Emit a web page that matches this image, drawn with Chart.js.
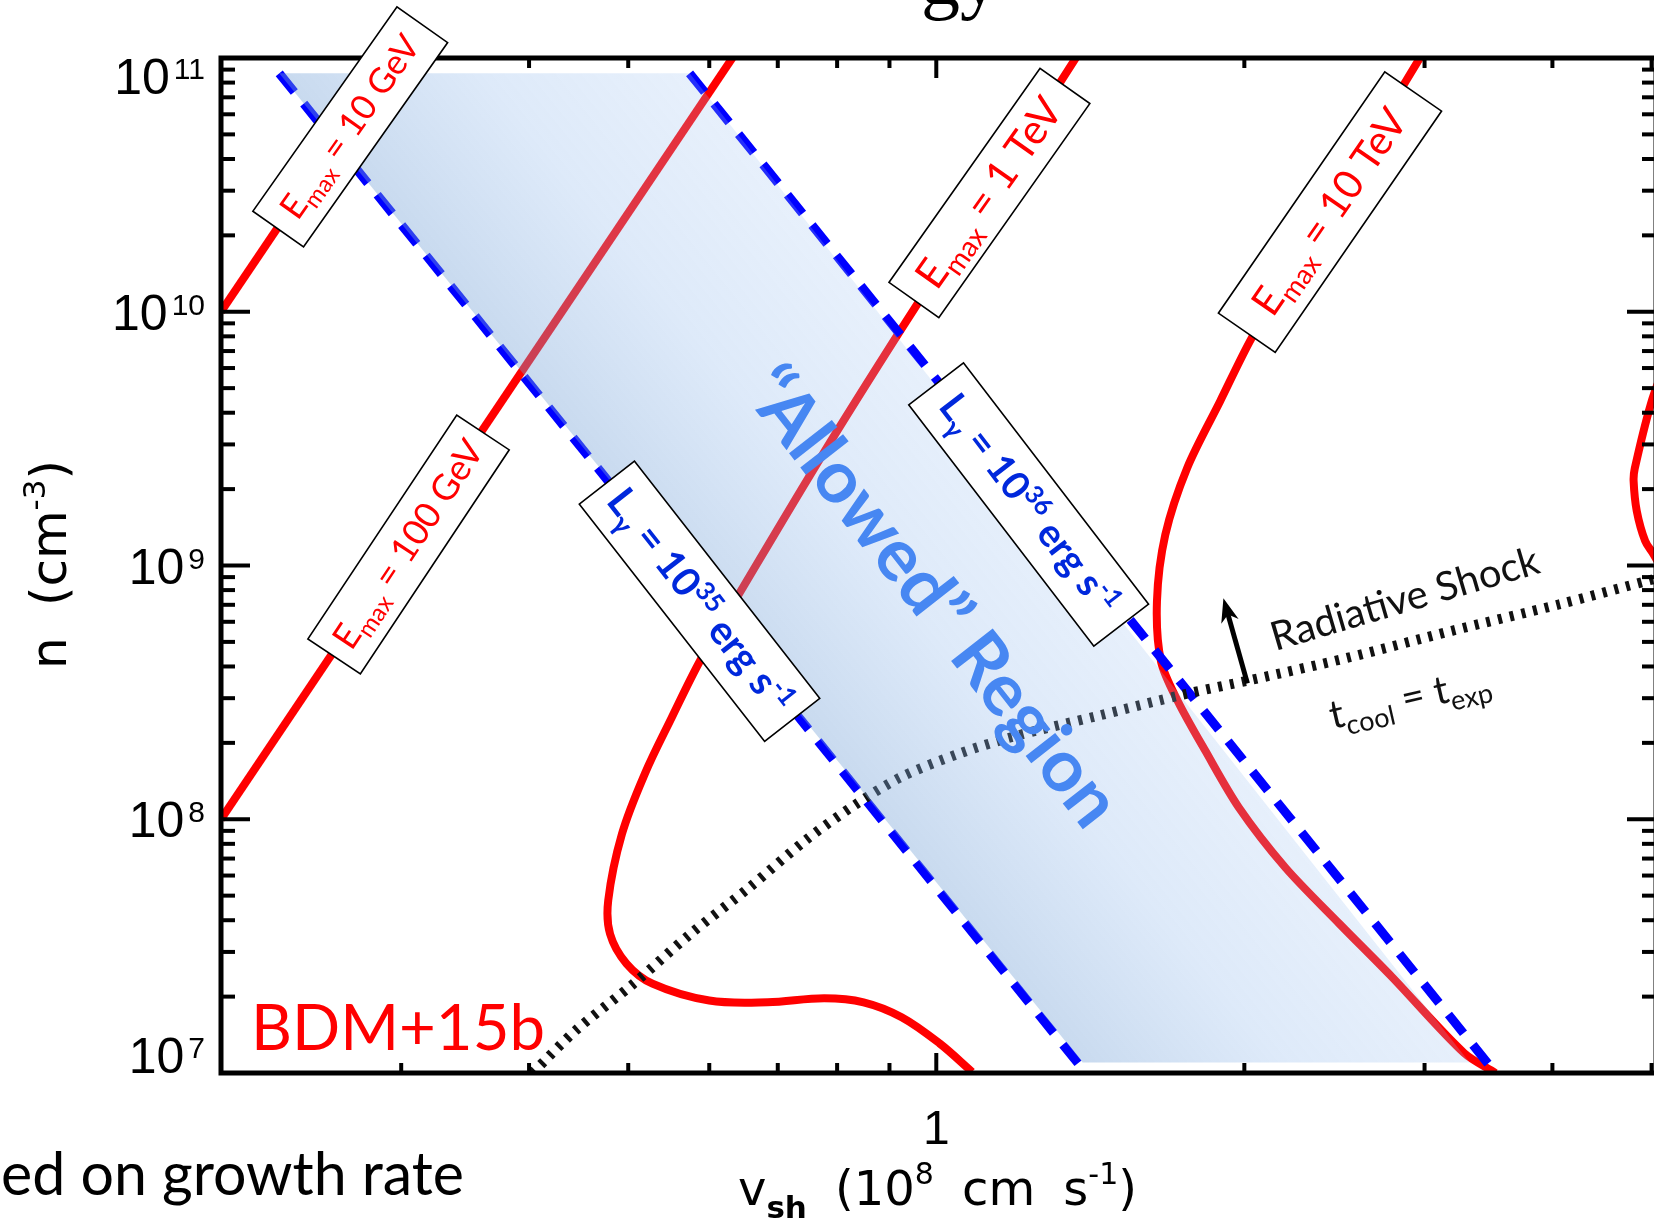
<!DOCTYPE html>
<html>
<head>
<meta charset="utf-8">
<title>Allowed region</title>
<script src="https://cdn.jsdelivr.net/npm/chart.js@4.4.1/dist/chart.umd.min.js"></script>
<style>
html,body{margin:0;padding:0;background:#ffffff;overflow:hidden;}
body{width:1654px;height:1224px;position:relative;}
#chart{position:absolute;left:0;top:0;}
</style>
</head>
<body>
<canvas id="chart" width="1662" height="1224"></canvas>
<script>
// ---------------- data (v_sh in 1e8 cm/s, n in cm^-3) ----------------
const vMinorTicks = [0.3, 0.4, 0.5, 0.6, 0.7, 0.8, 0.9, 2, 3, 4, 5];
const vMajorTicks = [1];
const vTickLabels = ['1'];
const nMajorTicks = [1e7, 1e8, 1e9, 1e10, 1e11];
const nTickExponents = ['7', '8', '9', '10', '11'];

const emax10GeV  = [{x:0.200, y:1.0e10}, {x:0.294, y:1.0e11}];
const emax100GeV = [{x:0.200, y:1.0e8},  {x:0.632, y:1.0e11}];
const emax1TeV = [
  {x:1.371,y:1.01e11},{x:1.130,y:3.0e10},{x:0.925,y:8.59e9},{x:0.774,y:2.73e9},{x:0.648,y:8.26e8},
  {x:0.589,y:4.28e8},{x:0.551,y:2.50e8},{x:0.519,y:1.51e8},{x:0.493,y:8.75e7},
  {x:0.478,y:4.79e7},{x:0.480,y:3.53e7},{x:0.498,y:2.70e7},{x:0.528,y:2.25e7},
  {x:0.600,y:1.93e7},{x:0.684,y:1.90e7},{x:0.777,y:1.97e7},{x:0.849,y:1.90e7},
  {x:0.925,y:1.66e7},{x:1.007,y:1.31e7},{x:1.084,y:1.01e7}
];
const emax10TeV = [
  {x:2.973,y:1.01e11},{x:2.704,y:5.37e10},{x:2.458,y:2.83e10},{x:2.236,y:1.49e10},
  {x:2.033,y:7.87e9},{x:1.894,y:4.44e9},
  {x:1.759,y:2.43e9},{x:1.674,y:1.32e9},{x:1.643,y:7.23e8},{x:1.658,y:4.19e8},
  {x:1.722,y:2.92e8},{x:1.832,y:1.86e8},{x:1.976,y:1.11e8},{x:2.194,y:6.44e7},
  {x:2.476,y:3.88e7},{x:2.788,y:2.39e7},{x:3.278,y:1.20e7},{x:3.519,y:1.0e7}
];
const emax100TeV = [
  {x:5.17,y:6.44e9},{x:4.99,y:4.31e9},{x:4.814,y:2.41e9},{x:4.802,y:2.15e9},
  {x:4.836,y:1.64e9},{x:4.928,y:1.25e9},{x:5.02,y:1.11e9},{x:5.23,y:8.26e8}
];
const lum35 = [{x:0.228, y:8.7e10}, {x:1.40, y:1.0e7}];
const lum36 = [{x:0.574, y:8.7e10}, {x:3.52, y:1.0e7}];
const coolingLine = [
  {x:0.403,y:1.0e7},{x:0.445,y:1.48e7},{x:0.506,y:2.25e7},{x:0.575,y:3.53e7},
  {x:0.656,y:5.37e7},{x:0.745,y:8.26e7},{x:0.833,y:1.14e8},{x:0.925,y:1.47e8},
  {x:1.051,y:1.81e8},{x:1.186,y:2.11e8},{x:1.435,y:2.55e8},{x:1.755,y:3.12e8},
  {x:2.024,y:3.53e8},{x:2.518,y:4.32e8},{x:3.191,y:5.53e8},{x:4.057,y:7.02e8},
  {x:5.02,y:8.83e8},{x:5.42,y:9.53e8}
];
const allowedRegion = [
  {x:0.228,y:8.7e10},{x:0.574,y:8.7e10},{x:3.32,y:1.1e7},{x:1.39,y:1.1e7},{x:0.228,y:8.7e10}
];

// ---------------- annotation layout ----------------
const FONT = 'Lato, "Noto Sans", sans-serif';
const AXFONT = '"Liberation Sans", Arial, sans-serif';
const TFONT = '"DejaVu Sans", "Liberation Sans", sans-serif';
const E = (val) => [{t:'E', size:34}, {t:'max', size:23, dy:8}, {t:' = ' + val, size:34}];
const L = (p) => [
  {t:'L', size:32, bold:true}, {t:'\u03B3', size:22, dy:8, bold:true},
  {t:' = 10', size:32, bold:true}, {t:p, size:21, dy:-12, bold:true},
  {t:' erg s', size:32, bold:true}, {t:'-1', size:21, dy:-12, bold:true}
];
const boxLabels = [
  {at:{x:0.2675,y:5.35e10}, w:250, h:62, rot:-54.8, width:215, color:'#ff0000', segs:E('10 GeV')},
  {at:{x:0.305, y:1.21e9},  w:269, h:63, rot:-56.4, width:242, color:'#ff0000', segs:E('100 GeV')},
  {at:{x:1.127, y:2.94e10}, w:262, h:61, rot:-54.8, width:222, color:'#ff0000', segs:E('1 TeV')},
  {at:{x:2.425, y:2.47e10}, w:293, h:69, rot:-55.4, width:240, color:'#ff0000', segs:E('10 TeV')},
  {at:{x:0.587, y:7.23e8},  w:301, h:70, rot:52.0,  width:273, color:'#0028dc', segs:L('35')},
  {at:{x:1.231, y:1.74e9},  w:304, h:69, rot:52.5,  width:266, color:'#0028dc', segs:L('36')}
];
const freeLabels = [
  {at:{x:0.993,y:7.57e8}, rot:52, width:560, color:'#4787f2',
   segs:[{t:'\u201CAllowed\u201D Region', size:62, bold:true}]},
  {at:{x:2.868,y:7.43e8}, rot:-16.4, width:278, color:'#111111',
   segs:[{t:'Radiative Shock', size:36}]},
  {at:{x:2.90,y:3.03e8}, rot:-13, width:164, color:'#111111',
   segs:[{t:'t', size:38}, {t:'cool', size:26, dy:9}, {t:' = t', size:38}, {t:'exp', size:26, dy:9}]}
];
const arrowTail = {x:2.014, y:3.43e8};
const arrowHead = {x:1.908, y:7.43e8};

// ---------------- helpers ----------------
function fontOf(s, k){ return (s.bold ? 'bold ' : '') + (s.size * k).toFixed(2) + 'px ' + (s.family || FONT); }
function widthOf(ctx, segs, k, extra){
  let w = 0;
  segs.forEach(s => { ctx.font = fontOf(s, k); w += ctx.measureText(s.t).width + (s.t === ' ' ? extra : 0); });
  return w;
}
function drawSegs(ctx, segs, x, y, k, color, extra){
  segs.forEach(s => {
    ctx.font = fontOf(s, k);
    ctx.fillStyle = s.color || color;
    ctx.fillText(s.t, x, y + (s.dy || 0) * k);
    x += ctx.measureText(s.t).width + (s.t === ' ' ? extra : 0);
  });
}
function fitScale(ctx, segs, target){ return target / widthOf(ctx, segs, 1, 0); }

function bandGradient(context){
  const chart = context.chart;
  if (!chart.chartArea || !chart.scales.x) return 'rgba(130,175,225,0.33)';
  const xs = chart.scales.x, ys = chart.scales.y;
  const p = d => [xs.getPixelForValue(d.x), ys.getPixelForValue(d.y)];
  const a0 = p(lum35[0]), a1 = p(lum35[1]), b0 = p(lum36[0]);
  let dx = a1[0] - a0[0], dy = a1[1] - a0[1];
  const len = Math.hypot(dx, dy); dx /= len; dy /= len;
  const nx = dy, ny = -dx;
  const dist = (b0[0] - a0[0]) * nx + (b0[1] - a0[1]) * ny;
  const mx = (a0[0] + a1[0]) / 2, my = (a0[1] + a1[1]) / 2;
  const g = chart.ctx.createLinearGradient(mx, my, mx + nx * dist, my + ny * dist);
  g.addColorStop(0, 'rgba(118,162,214,0.40)');
  g.addColorStop(0.5, 'rgba(145,185,236,0.30)');
  g.addColorStop(1, 'rgba(155,192,240,0.24)');
  return g;
}

// ---------------- overlay plugin: frame, ticks, labels ----------------
const overlay = {
  id: 'overlay',
  afterDatasetsDraw(chart){
    const ctx = chart.ctx, ca = chart.chartArea, xs = chart.scales.x, ys = chart.scales.y;
    const P = d => [xs.getPixelForValue(d.x), ys.getPixelForValue(d.y)];
    const seg = (a, b, c, d) => { ctx.beginPath(); ctx.moveTo(a, b); ctx.lineTo(c, d); ctx.stroke(); };
    ctx.save();
    ctx.strokeStyle = '#000'; ctx.lineCap = 'butt'; ctx.lineWidth = 4;
    vMinorTicks.forEach(v => { const px = xs.getPixelForValue(v); seg(px, ca.bottom, px, ca.bottom - 10); seg(px, ca.top, px, ca.top + 10); });
    vMajorTicks.forEach(v => { const px = xs.getPixelForValue(v); seg(px, ca.bottom, px, ca.bottom - 20); seg(px, ca.top, px, ca.top + 20); });
    nMajorTicks.forEach((n, i) => {
      const py = ys.getPixelForValue(n);
      seg(ca.left, py, ca.left + 29, py); seg(ca.right, py, ca.right - 29, py);
      if (i < nMajorTicks.length - 1) {
        for (let k = 2; k <= 9; k++) {
          const q = ys.getPixelForValue(n * k);
          seg(ca.left, q, ca.left + 14, q); seg(ca.right, q, ca.right - 14, q);
        }
      }
    });
    ctx.lineWidth = 5; ctx.lineJoin = 'miter';
    ctx.strokeRect(ca.left, ca.top, ca.right - ca.left, ca.bottom - ca.top);

    // y tick labels
    ctx.fillStyle = '#000'; ctx.textBaseline = 'alphabetic'; ctx.textAlign = 'left';
    nMajorTicks.forEach((n, i) => {
      const py = ys.getPixelForValue(n);
      ctx.font = '50px ' + AXFONT; const w1 = ctx.measureText('10').width;
      ctx.font = '30px ' + AXFONT; const w2 = ctx.measureText(nTickExponents[i]).width;
      const x0 = ca.left - 16 - (w1 + 4 + w2);
      let base = py + 18;
      if (i === nMajorTicks.length - 1) base = py + 36;
      if (i === 0) base = py;
      ctx.font = '50px ' + AXFONT; ctx.fillText('10', x0, base);
      ctx.font = '30px ' + AXFONT; ctx.fillText(nTickExponents[i], x0 + w1 + 4, base - 15);
    });
    // x tick labels
    ctx.textAlign = 'center'; ctx.font = '48px ' + AXFONT;
    vMajorTicks.forEach((v, i) => ctx.fillText(vTickLabels[i], xs.getPixelForValue(v), ca.bottom + 71));
    ctx.textAlign = 'left';

    // x axis title (spaces widened to match)
    const xt = [{t:'v', size:48, family:TFONT}, {t:'sh', size:31, dy:13, bold:true, family:TFONT}, {t:' ', size:48, family:TFONT},
      {t:'(10', size:48, family:TFONT}, {t:'8', size:30, dy:-21, family:TFONT}, {t:' ', size:48, family:TFONT},
      {t:'cm', size:48, family:TFONT}, {t:' ', size:48, family:TFONT}, {t:'s', size:48, family:TFONT},
      {t:'-1', size:30, dy:-21, family:TFONT}, {t:')', size:48, family:TFONT}];
    let nat = widthOf(ctx, xt, 1, 0);
    let extra = Math.max(0, (399 - nat) / 3);
    const xmid = (ca.left + ca.right) / 2 - 1;
    drawSegs(ctx, xt, xmid - (nat + 3 * extra) / 2, ca.bottom + 132, 1, '#000', extra);

    // y axis title
    const yt = [{t:'n', size:50, family:TFONT}, {t:' ', size:50, family:TFONT},
      {t:'(cm', size:50, family:TFONT}, {t:'-3', size:31, dy:-21, family:TFONT}, {t:')', size:50, family:TFONT}];
    nat = widthOf(ctx, yt, 1, 0);
    extra = Math.max(0, 209 - nat);
    ctx.save();
    ctx.translate(66, (ca.top + ca.bottom) / 2 - 1);
    ctx.rotate(-Math.PI / 2);
    drawSegs(ctx, yt, -(nat + extra) / 2, 0, 1, '#000', extra);
    ctx.restore();

    // boxed labels
    boxLabels.forEach(b => {
      const [cx, cy] = P(b.at);
      ctx.save();
      ctx.translate(cx, cy); ctx.rotate(b.rot * Math.PI / 180);
      ctx.fillStyle = '#fff'; ctx.fillRect(-b.w / 2, -b.h / 2, b.w, b.h);
      ctx.strokeStyle = '#000'; ctx.lineWidth = 1.6; ctx.strokeRect(-b.w / 2, -b.h / 2, b.w, b.h);
      const k = fitScale(ctx, b.segs, b.width);
      drawSegs(ctx, b.segs, -b.width / 2, 0.33 * b.segs[0].size * k, k, b.color, 0);
      ctx.restore();
    });
    // free labels
    freeLabels.forEach(f => {
      const [cx, cy] = P(f.at);
      ctx.save();
      ctx.translate(cx, cy); ctx.rotate(f.rot * Math.PI / 180);
      const k = fitScale(ctx, f.segs, f.width);
      drawSegs(ctx, f.segs, -f.width / 2, 0.35 * f.segs[0].size * k, k, f.color, 0);
      ctx.restore();
    });
    // arrow
    const [tx, ty] = P(arrowTail), [hx, hy] = P(arrowHead);
    const ang = Math.atan2(hy - ty, hx - tx);
    ctx.strokeStyle = '#000'; ctx.fillStyle = '#000'; ctx.lineWidth = 5;
    seg(tx, ty, hx - 16 * Math.cos(ang), hy - 16 * Math.sin(ang));
    ctx.beginPath();
    ctx.moveTo(hx, hy);
    ctx.lineTo(hx - 24 * Math.cos(ang) + 9 * Math.sin(ang), hy - 24 * Math.sin(ang) - 9 * Math.cos(ang));
    ctx.lineTo(hx - 17 * Math.cos(ang), hy - 17 * Math.sin(ang));
    ctx.lineTo(hx - 24 * Math.cos(ang) - 9 * Math.sin(ang), hy - 24 * Math.sin(ang) + 9 * Math.cos(ang));
    ctx.closePath(); ctx.fill();

    // reference tag
    const bdm = [{t:'BDM+15b', size:70}];
    drawSegs(ctx, bdm, ca.left + 30, ca.bottom - 23, fitScale(ctx, bdm, 294), '#ff0000', 0);
    // slide fragments around the figure
    const foot = [{t:'ed on growth rate', size:64}];
    drawSegs(ctx, foot, 1, 1195, fitScale(ctx, foot, 463), '#000', 0);
    ctx.font = '78px "Liberation Serif", "DejaVu Serif", serif';
    ctx.fillStyle = '#000';
    ctx.fillText('gy', 921, 4);
    ctx.restore();
  }
};

const lineDefaults = {showLine:true, pointRadius:0, pointHoverRadius:0, fill:false};
new Chart(document.getElementById('chart'), {
  type: 'scatter',
  data: {
    datasets: [
      {label:'Allowed region', data:allowedRegion, showLine:true, pointRadius:0, fill:'shape',
        backgroundColor:bandGradient, borderWidth:0, borderColor:'rgba(0,0,0,0)', tension:0, order:0},
      Object.assign({}, lineDefaults, {label:'t_cool = t_exp', data:coolingLine, borderColor:'#111111',
        borderWidth:10, borderDash:[4, 8], borderCapStyle:'butt', tension:0.3, order:1}),
      Object.assign({}, lineDefaults, {label:'L 1e35', data:lum35, borderColor:'#0000ff',
        borderWidth:9, borderDash:[24, 15], borderCapStyle:'butt', tension:0, order:2}),
      Object.assign({}, lineDefaults, {label:'L 1e36', data:lum36, borderColor:'#0000ff',
        borderWidth:9, borderDash:[24, 15], borderCapStyle:'butt', tension:0, order:2}),
      Object.assign({}, lineDefaults, {label:'Emax 10 GeV', data:emax10GeV, borderColor:'#ff0000', borderWidth:8, tension:0, order:3}),
      Object.assign({}, lineDefaults, {label:'Emax 100 GeV', data:emax100GeV, borderColor:'#ff0000', borderWidth:8, tension:0, order:3}),
      Object.assign({}, lineDefaults, {label:'Emax 1 TeV', data:emax1TeV, borderColor:'#ff0000', borderWidth:8, tension:0.35, order:3}),
      Object.assign({}, lineDefaults, {label:'Emax 10 TeV', data:emax10TeV, borderColor:'#ff0000', borderWidth:8, tension:0.3, order:3}),
      Object.assign({}, lineDefaults, {label:'Emax 100 TeV', data:emax100TeV, borderColor:'#ff0000', borderWidth:8, tension:0.35, order:3})
    ]
  },
  options: {
    responsive: false,
    animation: false,
    devicePixelRatio: 1,
    events: [],
    layout: {padding: {left:221, top:58, right:6, bottom:151}},
    scales: {
      x: {type:'logarithmic', min:0.2, max:5.05, display:false},
      y: {type:'logarithmic', min:1e7, max:1e11, display:false}
    },
    plugins: {legend:{display:false}, tooltip:{enabled:false}}
  },
  plugins: [overlay]
});
</script>
</body>
</html>
